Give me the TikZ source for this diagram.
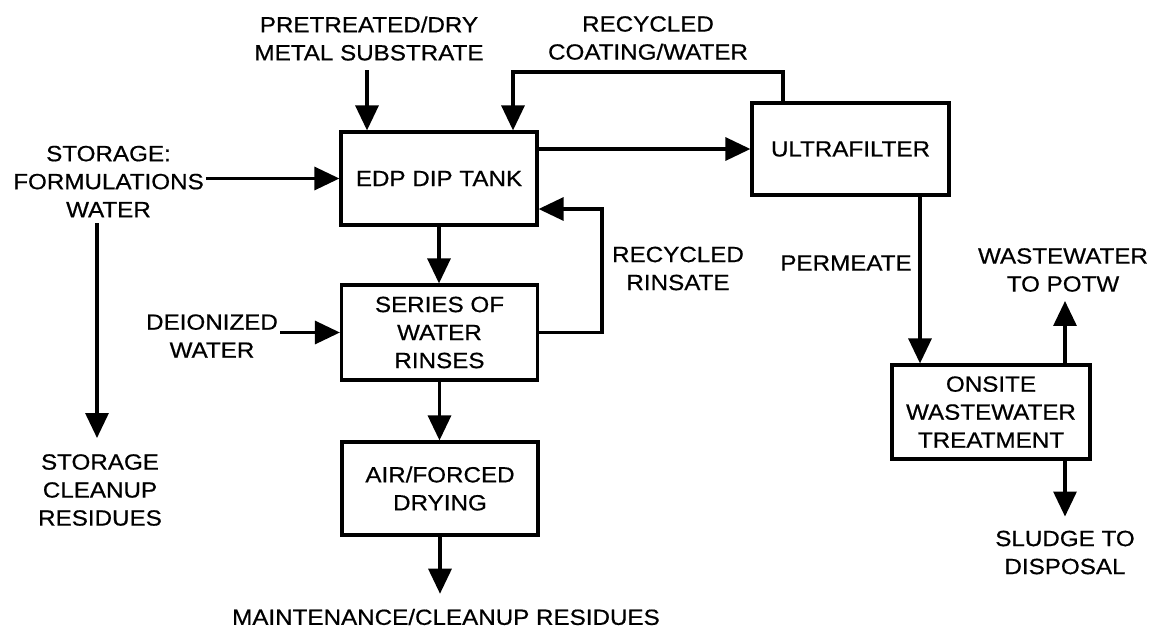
\documentclass[tikz,border=0pt]{standalone}
\usepackage{fontspec}
\setmainfont{Liberation Sans}[FakeStretch=1.1,FakeBold=0.6]
\usetikzlibrary{arrows.meta,calc}
\begin{document}
\begin{tikzpicture}[x=1pt,y=-1pt,
  every node/.style={font=\fontsize{22}{28}\selectfont, align=center, inner sep=2pt},
  box/.style={draw, line width=3.2pt, minimum width=196pt, minimum height=93pt},
  lbl/.style={},
  arr/.style={line width=3.2pt, -{Triangle[length=25pt,width=23pt]}},
  ln/.style={line width=3.2pt}]
\useasboundingbox (0,0) rectangle (1157,630);

% boxes
\node[box] (edp) at (439,178.5) {EDP DIP TANK};
\node[box, minimum height=95pt] (ser) at (439.5,332.5) {SERIES OF\\WATER\\RINSES};
\node[box] (dry) at (440,488.5) {AIR/FORCED\\DRYING};
\node[box, minimum width=197pt, minimum height=92pt] (uf) at (850.5,149) {ULTRAFILTER};
\node[box, minimum width=198pt, minimum height=94pt] (ons) at (991,412) {ONSITE\\WASTEWATER\\TREATMENT};

% text nodes
\node[lbl] (pre) at (369,38.5) {PRETREATED/DRY\\METAL SUBSTRATE};
\node[lbl] (stor) at (108.5,181.5) {STORAGE:\\FORMULATIONS\\WATER};
\node[lbl] (sres) at (100,490) {STORAGE\\CLEANUP\\RESIDUES};
\node[lbl] (deion) at (212,336) {DEIONIZED\\WATER};
\node[lbl] (maint) at (446,617) {MAINTENANCE/CLEANUP RESIDUES};
\node[lbl] (rcw) at (648,38) {RECYCLED\\COATING/WATER};
\node[lbl] (rrin) at (678,268.5) {RECYCLED\\RINSATE};
\node[lbl] (perm) at (846,263) {PERMEATE};
\node[lbl] (ww) at (1063,270) {WASTEWATER\\TO POTW};
\node[lbl] (sl) at (1065,552.5) {SLUDGE TO\\DISPOSAL};

% helper coordinates
\coordinate (preA) at (367,70);
\coordinate (sx) at (97,223);
\coordinate (sxe) at (97,438);
\coordinate (ucx) at (783,0);
\coordinate (ecx) at (513,0);
\coordinate (topy) at (0,72);
\coordinate (rr) at (602,209);
\coordinate (px) at (920,0);
\coordinate (ox) at (1065,0);

% connectors
\draw[arr] (preA) -- (preA |- edp.north);
\draw[arr] (stor.east |- edp.west) -- (edp.west);
\draw[arr] (sx) -- (sxe);
\draw[arr] (edp.south) -- (edp.south |- ser.north);
\draw[arr] (deion.east |- ser.west) -- (ser.west);
\draw[arr] (ser.south) -- (ser.south |- dry.north);
\draw[arr] (dry.south) -- ([yshift=13pt]maint.north -| dry.south);
\draw[arr] (edp.east |- uf.west) -- (uf.west);
\draw[arr] (uf.north -| ucx) |- (topy -| ecx) -- (edp.north -| ecx);
\draw[arr] (ser.east) -| (rr) -- (rr -| edp.east);
\draw[arr] (uf.south -| px) -- (ons.north -| px);
\draw[arr] (ons.north -| ox) -- ([yshift=-7pt]ww.south -| ox);
\draw[arr] (ons.south -| ox) -- ([yshift=12pt]sl.north -| ox);
\end{tikzpicture}
\end{document}
